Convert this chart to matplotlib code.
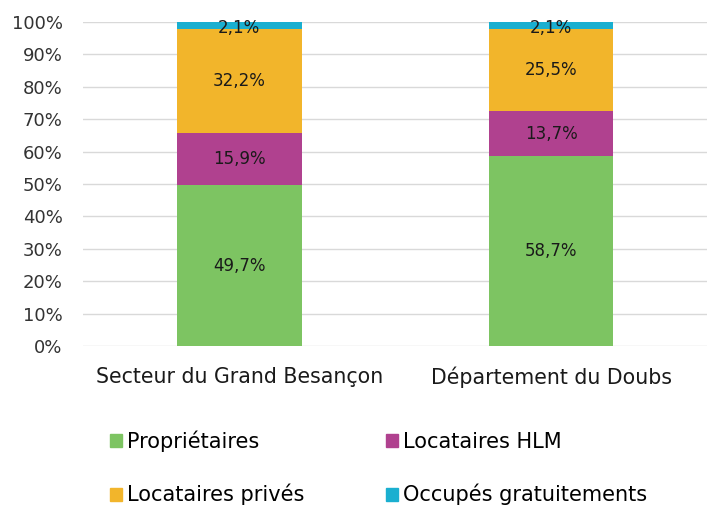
import matplotlib
matplotlib.use('Agg')
import matplotlib.pyplot as plt
from matplotlib.patches import Patch

categories = ['Secteur du Grand Besançon', 'Département du Doubs']
series = ['Propriétaires', 'Locataires HLM', 'Locataires privés', 'Occupés gratuitements']
proprietaires = [49.7, 58.7]
hlm = [15.9, 13.7]
prives = [32.2, 25.5]
gratuits = [2.1, 2.1]
colors = ['#7dc462', '#b0418f', '#f2b52b', '#1aafd0']

plt.rcParams['font.family'] = ['DejaVu Sans']
fig = plt.figure(figsize=(7.07, 5.09), dpi=100)
ax = fig.add_axes([0.118, 0.32, 0.882, 0.637])

x = range(len(categories))
bottom = [0, 0]
for vals, name, c in zip([proprietaires, hlm, prives, gratuits], series, colors):
    ax.bar(x, vals, 0.4, bottom=bottom, color=c, label=name, zorder=3)
    for i, v in enumerate(vals):
        y = bottom[i] + v / 2
        if name == 'Occupés gratuitements':
            y = bottom[i] + 0.3
        ax.text(i, y, ('%.1f%%' % v).replace('.', ','), ha='center', va='center',
                fontsize=12, color='#1a1a1a', zorder=4)
    bottom = [b + v for b, v in zip(bottom, vals)]

ax.set_xlim(-0.5, 1.5)
ax.set_ylim(0, 100)
ax.set_yticks(range(0, 101, 10))
ax.set_yticklabels(['%d%%' % t for t in range(0, 101, 10)], fontsize=13, color='#333333')
ax.set_xticks(list(x))
ax.set_xticklabels(categories, fontsize=14.8, color='#1a1a1a')
ax.tick_params(axis='both', length=0)
ax.tick_params(axis='y', pad=15)
ax.tick_params(axis='x', pad=15)
ax.grid(axis='y', color='#d9d9d9', linewidth=1, zorder=0)
for s in ax.spines.values():
    s.set_visible(False)

handles = [Patch(color=c) for c in colors]
order = [0, 2, 1, 3]
fig.legend([handles[i] for i in order], [series[i] for i in order], ncol=2,
           loc='upper left', bbox_to_anchor=(0.155, 0.155), frameon=False,
           fontsize=15, handlelength=0.58, handleheight=0.58, handletextpad=0.25,
           columnspacing=3.9, labelspacing=1.55, borderaxespad=0, borderpad=0)

fig.savefig('out.png', dpi=100)
